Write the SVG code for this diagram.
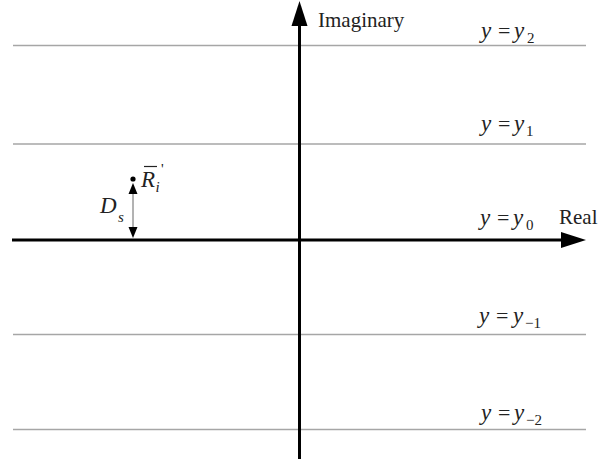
<svg xmlns="http://www.w3.org/2000/svg" width="615" height="465" viewBox="0 0 615 465">
  <style>
    .grid { stroke: #a6a6a6; stroke-width: 1.5; fill: none; }
    .axis { stroke: #000; stroke-width: 3; fill: none; }
    .thin { stroke: #666; stroke-width: 1; fill: none; }
    .head { fill: #000; stroke: none; }
    text { font-family: 'Liberation Serif', 'DejaVu Serif', 'Times New Roman', serif; fill: #222; }
    .lbl { font-size: 21px; }
    .m { font-size: 23px; font-style: italic; }
    .up { font-size: 22px; }
    .sub { font-size: 15px; }
    .subi { font-size: 15px; font-style: italic; }
  </style>
  <rect width="615" height="465" fill="#fff"/>

  <g id="grid-lines">
    <line class="grid" x1="13" y1="45.5" x2="586" y2="45.5"/>
    <line class="grid" x1="13" y1="144" x2="586" y2="144"/>
    <line class="grid" x1="13" y1="334.5" x2="586" y2="334.5"/>
    <line class="grid" x1="13" y1="429.5" x2="586" y2="429.5"/>
  </g>

  <g id="connectors">
    <g id="real-axis">
      <line class="axis" x1="12" y1="240" x2="565" y2="240"/>
      <polygon class="head" points="586,240 561,232 561,248"/>
    </g>
    <g id="imaginary-axis">
      <line class="axis" x1="299.5" y1="459" x2="299.5" y2="22"/>
      <polygon class="head" points="299.5,1 291.5,26 307.5,26"/>
    </g>
    <g id="ds-arrow">
      <line class="thin" x1="133" y1="190" x2="133" y2="230"/>
      <polygon class="head" points="133,183 128.5,194 137.5,194"/>
      <polygon class="head" points="133,238 128.5,227 137.5,227"/>
    </g>
  </g>

  <g id="point-R">
    <circle cx="133" cy="179" r="2.6" fill="#000"/>
    <text class="m" x="141" y="187">R</text>
    <line x1="144" y1="166.5" x2="157" y2="166.5" stroke="#222" stroke-width="1.2"/>
    <text class="subi" x="155.5" y="192">i</text>
    <text class="sub" x="161" y="174">'</text>
  </g>

  <g id="label-Ds">
    <text class="m" x="100" y="213">D</text>
    <text class="subi" x="118" y="222">s</text>
  </g>

  <g id="axis-labels">
    <text class="lbl" x="318" y="27">Imaginary</text>
    <text class="lbl" x="559" y="224">Real</text>
  </g>

  <g id="label-y2">
    <text class="m" x="481" y="38">y</text>
    <text class="up" x="498" y="38">=</text>
    <text class="m" x="514" y="38">y</text>
    <text class="sub" x="527" y="43">2</text>
  </g>
  <g id="label-y1">
    <text class="m" x="481" y="131">y</text>
    <text class="up" x="498" y="131">=</text>
    <text class="m" x="514" y="131">y</text>
    <text class="sub" x="526" y="136">1</text>
  </g>
  <g id="label-y0">
    <text class="m" x="480" y="225">y</text>
    <text class="up" x="497" y="225">=</text>
    <text class="m" x="513" y="225">y</text>
    <text class="sub" x="526" y="230">0</text>
  </g>
  <g id="label-ym1">
    <text class="m" x="479" y="323">y</text>
    <text class="up" x="496" y="323">=</text>
    <text class="m" x="513" y="323">y</text>
    <text class="sub" x="525" y="328">−1</text>
  </g>
  <g id="label-ym2">
    <text class="m" x="481" y="420">y</text>
    <text class="up" x="498" y="420">=</text>
    <text class="m" x="514" y="420">y</text>
    <text class="sub" x="526" y="425">−2</text>
  </g>
</svg>
